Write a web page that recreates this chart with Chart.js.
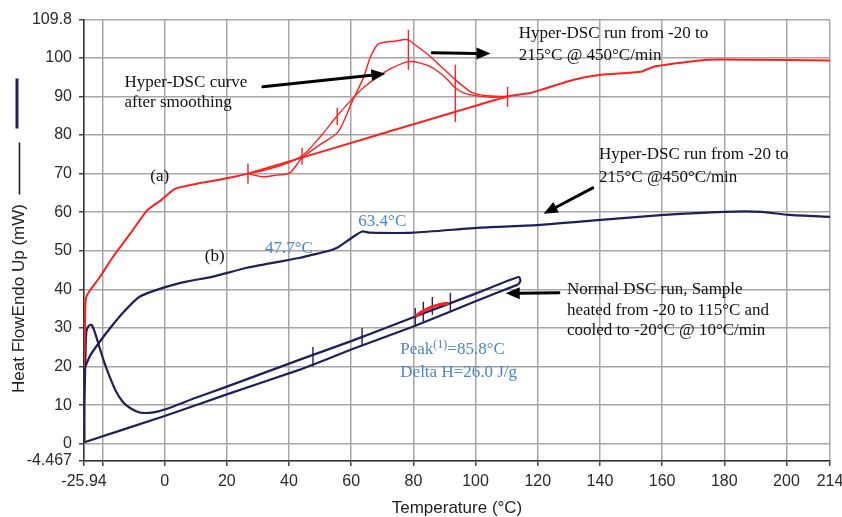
<!DOCTYPE html>
<html><head><meta charset="utf-8">
<script src="https://cdn.jsdelivr.net/npm/chart.js@4/dist/chart.umd.min.js"></script>
<style>html,body{margin:0;padding:0;background:#fff;}#c{display:block;}</style>
</head><body>
<canvas id="c" width="842" height="517"></canvas>
<script>
// ---- axis ticks ----
const xTicks = [-25.94, -20, 0, 20, 40, 60, 80, 100, 120, 140, 160, 180, 200, 214];
const xTickLabels = ['-25.94', '', '0', '20', '40', '60', '80', '100', '120', '140', '160', '180', '200', '214'];
const yTicks = [-4.467, 0, 10, 20, 30, 40, 50, 60, 70, 80, 90, 100, 109.8];
const yTickLabels = ['-4.467', '0', '10', '20', '30', '40', '50', '60', '70', '80', '90', '100', '109.8'];

// ---- series: [temperature °C, heat flow mW] ----
const curveA = [[-25.94,20],[-25.6,30],[-25.2,38.1],[-21,43],[-16.8,48.2],[-11,54.5],[-5.5,60.6],[-1,63.2],[3.2,66],[10,67.3],[20,68.8],[26.8,70],[68.5,80],[110.3,90],[117.7,90.9],[121,91.7],[131.6,94.3],[140.3,95.6],[153.2,96.4],[157.4,97.7],[166,98.7],[174.8,99.5],[187.7,99.5],[214,99.3]];
const hyperRaw = [[26.8,70],[31.6,69.2],[36,69.6],[40.3,70.2],[44.2,74.1],[50,77.5],[55.8,80.8],[60.3,88.6],[64,95],[66.1,100],[68.4,103.4],[70.3,104],[74,104.3],[78,104.7],[81.5,102.8],[85.5,100.3],[89.5,97.3],[93.5,94.3],[98.4,91.2],[101.6,90.4],[105,90.1],[110.3,90]];
const hyperSmooth = [[26.8,70],[31.6,70.8],[38,72.3],[44.2,74.6],[50,79.5],[55.5,85],[60.3,89.3],[64,92.3],[68.4,95],[73,97.3],[78.4,99],[82,98.7],[85.5,97.7],[89,95.8],[91,94.3],[93.5,92.2],[96,91],[98.4,90.4],[101.6,90],[105,89.8],[110.3,90]];
const curveB = [[-25.5,20],[-24,22.8],[-21,26.3],[-17,30.5],[-13.5,33.9],[-8.1,38.1],[-0.6,40.4],[7,42],[15.5,43.3],[26.5,45.6],[37,47.2],[43.5,48.2],[47.7,49],[52,49.8],[55.5,50.8],[59.5,53],[63.5,55],[66,54.7],[80,54.7],[101.6,56],[121,56.7],[140.3,58],[160.6,59.3],[180,60.1],[192,60.1],[200.6,59.3],[214,58.8]];
const normalHeat = [[-25.8,0.4],[0,7.2],[20,12.8],[43.5,19.2],[60,24.4],[80,30.4],[100,36.9],[113.8,41.3]];
const normalCool = [[113.8,41.3],[114.4,42.2],[113.9,43.2],[100,38.9],[80,32.8],[60,26.6],[43.5,21.8],[20,14.8],[10,11.9],[2.6,9.6],[-2,8.4],[-5,8.0],[-8,8.1],[-11,9.2],[-13.5,10.9],[-15.8,13.8],[-17.7,17.4],[-19.5,21.3],[-21,25.1],[-22.5,29],[-23.5,30.8],[-24.5,30.5],[-25.2,29],[-25.5,21.8],[-25.8,10],[-25.8,0.4]];
const normalPeak = [[80.6,33.0],[83,34.3],[85.8,35.4],[88.5,36.1],[91.3,36.4]];
// vertical marker ticks: [T, low, high]
const redMarkers = [[26.8,67.4,72.6],[44.2,72.3,76.7],[55.5,82.6,87.0],[78.4,96.9,107.3],[93.5,83.4,98.2],[110.3,87.3,92.5]];
const navyMarkers = [[47.7,20.0,25.1],[63.5,25.6,30.0],[80.6,30.8,35.2],[83.2,31.6,36.8],[86.1,33.4,38.0],[91.9,34.2,39.1]];

// ---- annotations (data coordinates) ----
const noteLines = [
  {t:'Hyper-DSC curve', x:-12.9, y:93.5, c:'#111'},
  {t:'after smoothing', x:-12.9, y:88.4, c:'#111'},
  {t:'Hyper-DSC run from -20 to', x:113.9, y:106.2, c:'#111'},
  {t:'215°C @ 450°C/min', x:113.9, y:100.6, c:'#111'},
  {t:'(a)', x:-4.6, y:69.2, c:'#111'},
  {t:'(b)', x:12.9, y:48.4, c:'#111'},
  {t:'47.7°C', x:32.3, y:50.5, c:'#4a86c8'},
  {t:'63.4°C', x:62.3, y:57.5, c:'#4a86c8'},
  {t:'Hyper-DSC run from -20 to', x:139.7, y:74.9, c:'#111'},
  {t:'215°C @450°C/min', x:139.7, y:68.9, c:'#111'},
  {t:'Normal DSC run, Sample', x:129.4, y:39.9, c:'#111'},
  {t:'heated from -20 to 115°C and', x:129.4, y:34.6, c:'#111'},
  {t:'cooled to -20°C @ 10°C/min', x:129.4, y:29.3, c:'#111'},
  {t:'Delta H=26.0 J/g', x:75.8, y:18.4, c:'#4a86c8'}
];
const peakNote = {parts:[['Peak',0],['(1)',1],['=85.8°C',0]], x:75.8, y:24.4, c:'#4a86c8'};
const arrows = [
  [[31.6,92.5],[71,95.9]],
  [[86.1,101.3],[104.8,101.1]],
  [[137.7,66.3],[121.9,59.6]],
  [[126.8,39.1],[109.7,39.0]]
];

const RED = '#ff1f1f', NAVY = '#1f1f5a';
const pts = a => a.map(p => ({x:p[0], y:p[1]}));
const markerPts = a => { const r=[]; a.forEach(m => { r.push({x:m[0],y:m[1]},{x:m[0],y:m[2]},{x:m[0],y:null}); }); return r; };

const serif = '"Liberation Serif","Times New Roman",serif';
const sans = '"Liberation Sans",Arial,sans-serif';

const annotPlugin = {
  id:'annot',
  afterDatasetsDraw(chart){
    const {ctx} = chart; const xs = chart.scales.x, ys = chart.scales.y;
    ctx.save();
    ctx.textBaseline = 'middle'; ctx.textAlign = 'left';
    ctx.font = '17px ' + serif;
    noteLines.forEach(n => { ctx.fillStyle = n.c; ctx.fillText(n.t, xs.getPixelForValue(n.x), ys.getPixelForValue(n.y)); });
    // peak with superscript
    let px = xs.getPixelForValue(peakNote.x), py = ys.getPixelForValue(peakNote.y);
    ctx.fillStyle = peakNote.c;
    peakNote.parts.forEach(([s,sup]) => {
      ctx.font = (sup ? '12px ' : '17px ') + serif;
      ctx.fillText(s, px, sup ? py-5 : py);
      px += ctx.measureText(s).width;
    });
    // arrows
    ctx.strokeStyle = '#000'; ctx.fillStyle = '#000'; ctx.lineWidth = 3; ctx.lineCap='round';
    arrows.forEach(([a,b]) => {
      const x1 = xs.getPixelForValue(a[0]), y1 = ys.getPixelForValue(a[1]);
      const x2 = xs.getPixelForValue(b[0]), y2 = ys.getPixelForValue(b[1]);
      const ang = Math.atan2(y2-y1, x2-x1), L = 14, W = 6;
      const bx = x2 - L*Math.cos(ang), by = y2 - L*Math.sin(ang);
      ctx.beginPath(); ctx.moveTo(x1,y1); ctx.lineTo(bx,by); ctx.stroke();
      ctx.beginPath(); ctx.moveTo(x2,y2);
      ctx.lineTo(bx - W*Math.sin(ang), by + W*Math.cos(ang));
      ctx.lineTo(bx + W*Math.sin(ang), by - W*Math.cos(ang));
      ctx.closePath(); ctx.fill();
    });
    ctx.restore();
  },
  afterDraw(chart){
    const {ctx, chartArea:{top,bottom}} = chart;
    const cy = (top+bottom)/2;
    ctx.save();
    ctx.translate(19, cy+58); ctx.rotate(-Math.PI/2);
    ctx.font = '17px ' + sans; ctx.fillStyle = '#222';
    ctx.textAlign='center'; ctx.textBaseline='middle';
    ctx.fillText('Heat FlowEndo Up (mW)', 0, 0);
    ctx.restore();
    ctx.save();
    ctx.strokeStyle = '#222'; ctx.lineWidth = 1.6;
    ctx.beginPath(); ctx.moveTo(19.5, cy-98); ctx.lineTo(19.5, cy-46); ctx.stroke();
    ctx.strokeStyle = NAVY; ctx.lineWidth = 3;
    ctx.beginPath(); ctx.moveTo(17, cy-162); ctx.lineTo(17, cy-112); ctx.stroke();
    ctx.restore();
  }
};

const ds = (data, color, width, tension) => ({data:pts(data), borderColor:color, borderWidth:width, showLine:true, pointRadius:0, tension:tension, fill:false, spanGaps:false});

new Chart(document.getElementById('c'), {
  type:'scatter',
  data:{datasets:[
    ds(normalPeak, RED, 3.2, 0.3),
    {data:markerPts(redMarkers), borderColor:RED, borderWidth:1.4, showLine:true, pointRadius:0, spanGaps:false},
    {data:markerPts(navyMarkers), borderColor:NAVY, borderWidth:1.4, showLine:true, pointRadius:0, spanGaps:false},
    ds(curveA, RED, 2, 0.2),
    ds(hyperRaw, RED, 1.4, 0.25),
    ds(hyperSmooth, RED, 1.4, 0.3),
    ds(curveB, NAVY, 2.2, 0.2),
    ds(normalHeat, NAVY, 2.2, 0.1),
    ds(normalCool, NAVY, 2.2, 0.25)
  ]},
  options:{
    responsive:false, animation:false, devicePixelRatio:1,
    layout:{padding:{top:20, right:12, left:0, bottom:0}},
    plugins:{legend:{display:false}, tooltip:{enabled:false}},
    scales:{
      x:{type:'linear', min:-25.94, max:214,
        afterBuildTicks: s => { s.ticks = xTicks.map(v => ({value:v})); },
        afterFit: s => { s.height = 56; s.paddingLeft = 0; s.paddingRight = 0; },
        ticks:{autoSkip:false, maxRotation:0, padding:6, color:'#2a2a2a', font:{family:sans, size:16},
          callback:(v,i) => xTickLabels[i]},
        grid:{color:'#a6a6a6', lineWidth:1.5, tickLength:5, tickColor:'#444'},
        border:{color:'#333', width:1.5},
        title:{display:true, text:'Temperature (°C)', color:'#222', font:{family:sans, size:17, lineHeight:1}, padding:{top:0,bottom:0}}
      },
      y:{type:'linear', min:-4.467, max:109.8,
        afterBuildTicks: s => { s.ticks = yTicks.map(v => ({value:v})); },
        afterFit: s => { s.width = 84; s.paddingTop = 0; s.paddingBottom = 0; },
        ticks:{autoSkip:false, padding:7, color:'#2a2a2a', font:{family:sans, size:16},
          callback:(v,i) => yTickLabels[i]},
        grid:{color:'#a6a6a6', lineWidth:1.5, tickLength:5, tickColor:'#444'},
        border:{color:'#333', width:1.5}
      }
    }
  },
  plugins:[annotPlugin]
});
</script>
</body></html>
